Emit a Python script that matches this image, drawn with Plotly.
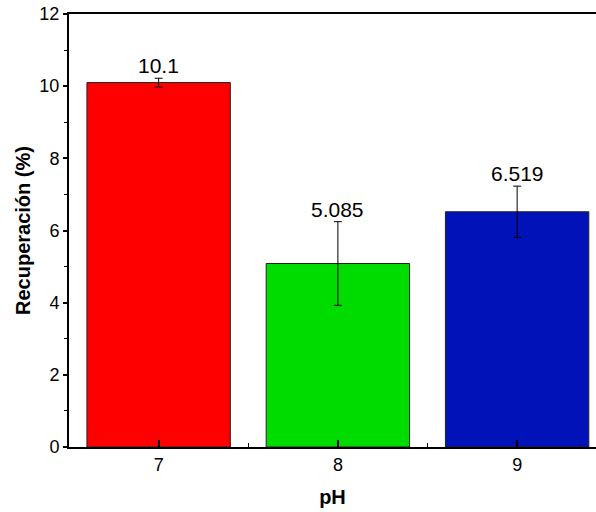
import plotly.graph_objects as go

# Recovery by pH
ph_values = [7, 8, 9]
recovery = [10.1, 5.085, 6.519]
recovery_err = [0.12, 1.16, 0.71]
bar_colors = ["#FF0000", "#00DC00", "#0012B8"]
value_labels = ["10.1", "5.085", "6.519"]
y_ticks = [0, 2, 4, 6, 8, 10, 12]

FONT = "Liberation Sans, Arial"

fig = go.Figure()
fig.add_trace(go.Bar(
    x=ph_values,
    y=recovery,
    width=0.8,
    marker=dict(color=bar_colors, line=dict(color="#222222", width=1)),
    error_y=dict(type="data", array=recovery_err, visible=True,
                 color="black", thickness=1, width=4),
    showlegend=False,
))

for x, y, e, t in zip(ph_values, recovery, recovery_err, value_labels):
    fig.add_annotation(x=x, y=y + e, text=t, showarrow=False,
                       yanchor="bottom", yshift=-1,
                       font=dict(family=FONT, size=21, color="black"))

axis_font = dict(family=FONT, size=18, color="black")

fig.update_layout(
    width=596, height=512,
    margin=dict(l=69, r=0, t=14, b=65),
    paper_bgcolor="white", plot_bgcolor="white",
    xaxis=dict(
        range=[6.5, 9.44],
        tickvals=ph_values, ticktext=[str(v) for v in ph_values],
        ticks="inside", ticklen=7, tickwidth=1.5, tickcolor="black",
        minor=dict(dtick=0.5, tick0=6.5, ticks="inside", ticklen=4, tickwidth=1, tickcolor="black"),
        showline=True, linecolor="black", linewidth=2, mirror=True,
        showgrid=False, zeroline=False,
        tickfont=axis_font,
        title=dict(text="<b>pH</b>", font=dict(family=FONT, size=20, color="black"), standoff=16),
    ),
    yaxis=dict(
        range=[0, 12],
        tickvals=y_ticks,
        ticks="outside", ticklen=4, tickwidth=1.5, tickcolor="black",
        minor=dict(dtick=1, tick0=0, ticks="outside", ticklen=3, tickwidth=1, tickcolor="black"),
        showline=True, linecolor="black", linewidth=2, mirror=False,
        showgrid=False, zeroline=False,
        tickfont=axis_font,
        title=dict(text="<b>Recuperación (%)</b>", font=dict(family=FONT, size=20, color="black"), standoff=3),
    ),
)

fig.write_html("out.html")
